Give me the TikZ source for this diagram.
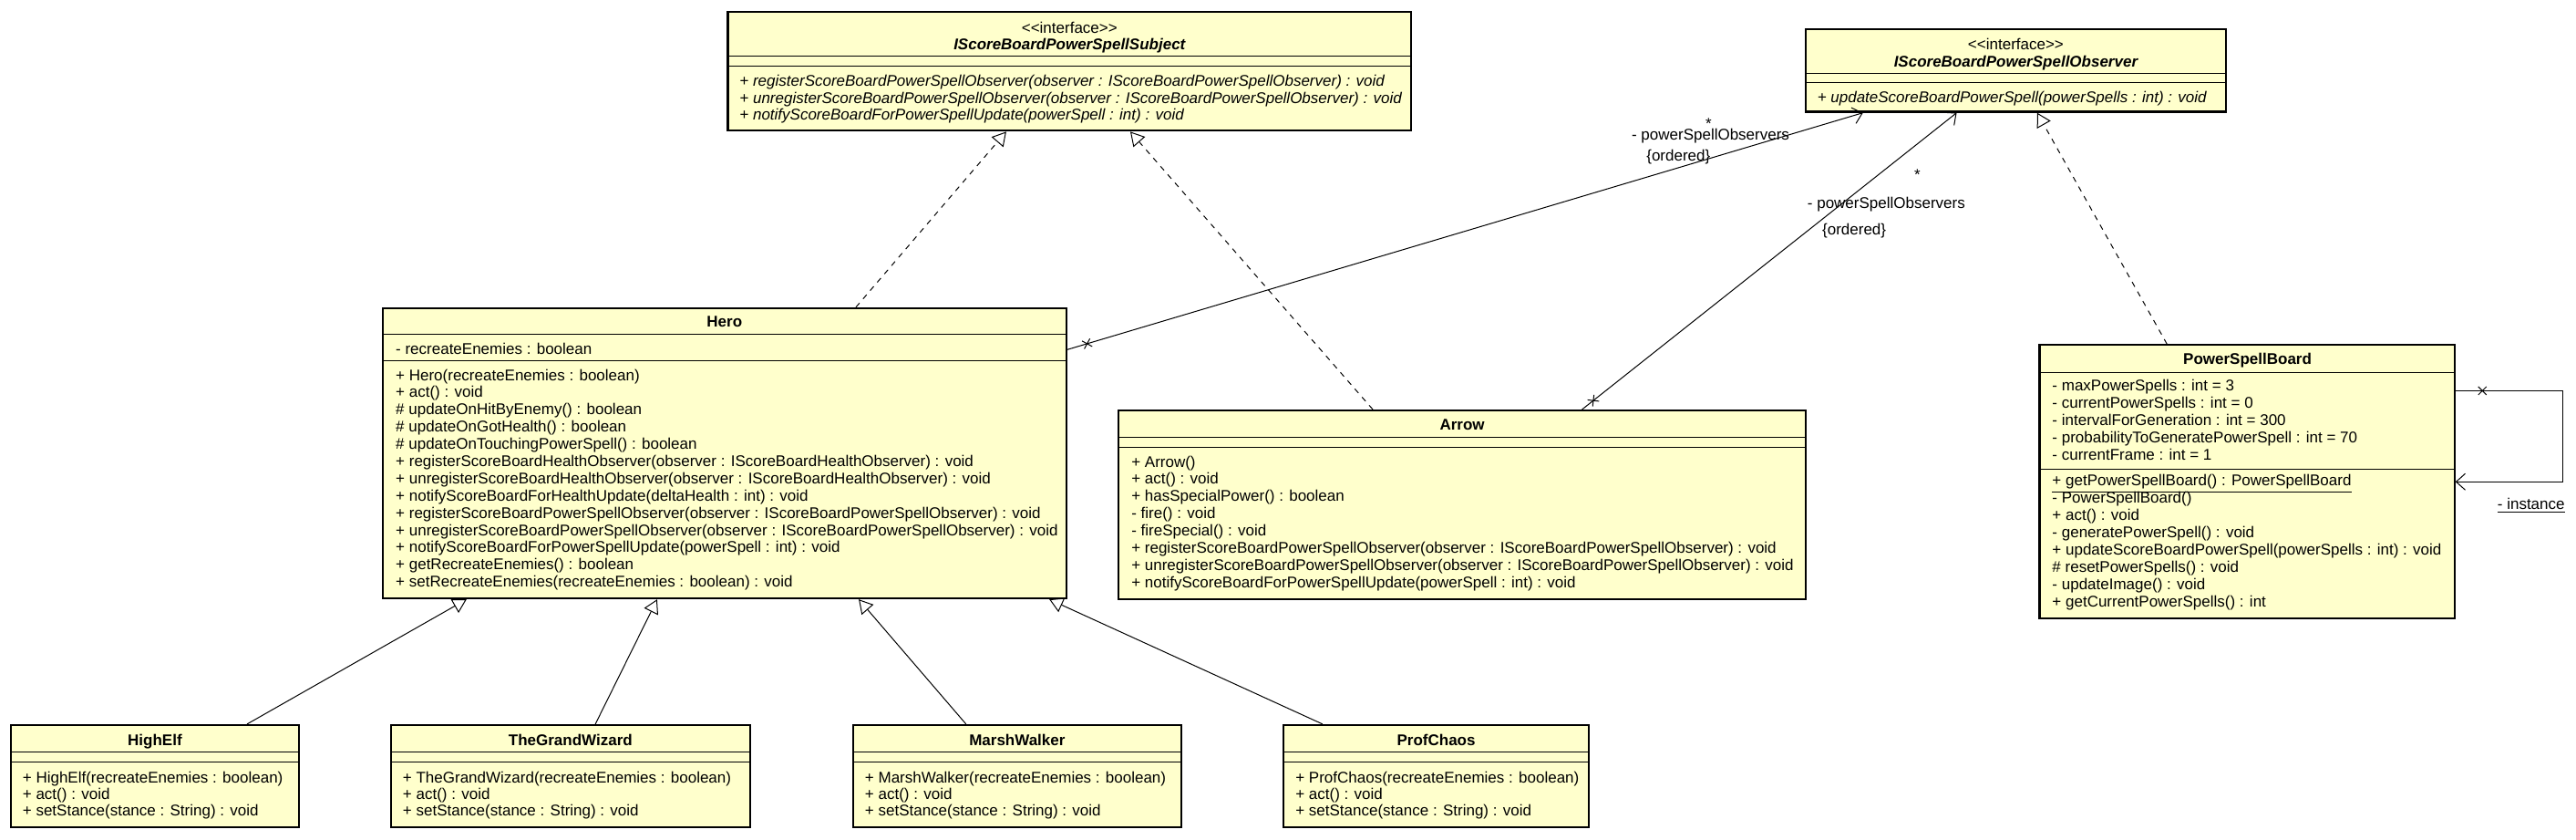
\documentclass[tikz,border=0pt]{standalone}
\usepackage{fontspec}
\setmainfont{Liberation Sans}
\usetikzlibrary{arrows.meta,fit,shapes.misc}
\definecolor{classfill}{RGB}{255,255,204}

\begin{document}
\begin{tikzpicture}[x=0.9012pt,y=-0.9012pt,
    classbox/.style={draw,line width=1.1pt,fill=classfill,inner sep=0pt},
    divider/.style={line width=0.5pt},
    member/.style={anchor=base west,inner sep=0pt,font=\fontsize{8.5}{10}\selectfont},
    absmember/.style={member,font=\fontsize{8.5}{10}\selectfont\itshape},
    stereo/.style={anchor=base,inner sep=0pt,font=\fontsize{8.5}{10}\selectfont},
    classname/.style={anchor=base,inner sep=0pt,font=\fontsize{8.5}{10}\selectfont\bfseries},
    ifacename/.style={classname,font=\fontsize{8.5}{10}\selectfont\bfseries\itshape},
    rolename/.style={anchor=base west,inner sep=0pt,font=\fontsize{8.5}{10}\selectfont},
    realizes/.style={line width=0.5pt,dash pattern=on 3pt off 3pt,-{Triangle[open,length=7.5pt,width=8.5pt]}},
    extends/.style={line width=0.5pt,-{Triangle[open,length=7.5pt,width=8.5pt]}},
    navigable/.style={line width=0.5pt,-{Straight Barb[length=5pt,width=9pt]}},
    noend/.style={cross out,draw,line width=0.5pt,minimum size=4pt,inner sep=0pt,sloped}]
  \useasboundingbox (0,0) rectangle (1568,511);

  % interfaces
  \node[classbox,fit={(443,7.4) (859,79.5)}] (isubject) {};
  \draw[divider] (443,34.2) -- (859,34.2);
  \draw[divider] (443,40.1) -- (859,40.1);
  \node[stereo] (isubject-st) at (651,20) {<\kern0pt<interface>\kern0pt>};
  \node[ifacename] (isubject-name) at (651,30.4) {IScoreBoardPowerSpellSubject};
  \foreach \t [count=\i] in {registerScoreBoardPowerSpellObserver(observer : IScoreBoardPowerSpellObserver) : void,
      unregisterScoreBoardPowerSpellObserver(observer : IScoreBoardPowerSpellObserver) : void,
      notifyScoreBoardForPowerSpellUpdate(powerSpell : int) : void}
    \node[absmember] (isubject-op-\i) at (450,{42.4+10.2*\i}) {+ \t};

  \node[classbox,fit={(1099,17.6) (1355,68)}] (iobserver) {};
  \draw[divider] (1099,44.4) -- (1355,44.4);
  \draw[divider] (1099,50.3) -- (1355,50.3);
  \node[stereo] (iobserver-st) at (1227,30.2) {<\kern0pt<interface>\kern0pt>};
  \node[ifacename] (iobserver-name) at (1227,40.6) {IScoreBoardPowerSpellObserver};
  \node[absmember] (iobserver-op-1) at (1106,62.5) {+ updateScoreBoardPowerSpell(powerSpells : int) : void};

  % Hero
  \node[classbox,fit={(233,187.5) (649,364)}] (hero) {};
  \draw[divider] (233,203.5) -- (649,203.5);
  \draw[divider] (233,219.7) -- (649,219.7);
  \node[classname] (hero-name) at (441,199) {Hero};
  \node[member] (hero-attr-1) at (240.7,215.3) {- recreateEnemies : boolean};
  \foreach \t [count=\i] in {+ Hero(recreateEnemies : boolean),
      + act() : void,
      \# updateOnHitByEnemy() : boolean,
      \# updateOnGotHealth() : boolean,
      \# updateOnTouchingPowerSpell() : boolean,
      + registerScoreBoardHealthObserver(observer : IScoreBoardHealthObserver) : void,
      + unregisterScoreBoardHealthObserver(observer : IScoreBoardHealthObserver) : void,
      + notifyScoreBoardForHealthUpdate(deltaHealth : int) : void,
      + registerScoreBoardPowerSpellObserver(observer : IScoreBoardPowerSpellObserver) : void,
      + unregisterScoreBoardPowerSpellObserver(observer : IScoreBoardPowerSpellObserver) : void,
      + notifyScoreBoardForPowerSpellUpdate(powerSpell : int) : void,
      + getRecreateEnemies() : boolean,
      + setRecreateEnemies(recreateEnemies : boolean) : void}
    \node[member] (hero-op-\i) at (240.7,{220.92+10.48*\i}) {\t};

  % Arrow
  \node[classbox,fit={(681,249.7) (1099,364.4)}] (arrow) {};
  \draw[divider] (681,266.3) -- (1099,266.3);
  \draw[divider] (681,271.9) -- (1099,271.9);
  \node[classname] (arrow-name) at (890,261.6) {Arrow};
  \foreach \t [count=\i] in {+ Arrow(),
      + act() : void,
      + hasSpecialPower() : boolean,
      - fire() : void,
      - fireSpecial() : void,
      + registerScoreBoardPowerSpellObserver(observer : IScoreBoardPowerSpellObserver) : void,
      + unregisterScoreBoardPowerSpellObserver(observer : IScoreBoardPowerSpellObserver) : void,
      + notifyScoreBoardForPowerSpellUpdate(powerSpell : int) : void}
    \node[member] (arrow-op-\i) at (688.5,{273.6+10.5*\i}) {\t};

  % PowerSpellBoard
  \node[classbox,fit={(1241.5,209.9) (1494,376.4)}] (psb) {};
  \draw[divider] (1241.5,226.6) -- (1494,226.6);
  \draw[divider] (1241.5,285.2) -- (1494,285.2);
  \node[classname] (psb-name) at (1368,221.6) {PowerSpellBoard};
  \foreach \t [count=\i] in {- maxPowerSpells : int = 3,
      - currentPowerSpells : int = 0,
      - intervalForGeneration : int = 300,
      - probabilityToGeneratePowerSpell : int = 70,
      - currentFrame : int = 1}
    \node[member] (psb-attr-\i) at (1249,{227.4+10.5*\i}) {\t};
  \foreach \t [count=\i] in {{\underline{+ getPowerSpellBoard() : PowerSpellBoard}},
      - PowerSpellBoard(),
      + act() : void,
      - generatePowerSpell() : void,
      + updateScoreBoardPowerSpell(powerSpells : int) : void,
      \# resetPowerSpells() : void,
      - updateImage() : void,
      + getCurrentPowerSpells() : int}
    \node[member] (psb-op-\i) at (1249,{285.1+10.5*\i}) {\t};

  % heroes
  \foreach \name/\id/\l/\r in {HighElf/highelf/6.6/182,
      TheGrandWizard/grandwizard/238/456.5,
      MarshWalker/marshwalker/519.3/719,
      ProfChaos/profchaos/781.4/967} {
    \node[classbox,fit={(\l,441.1) (\r,503.4)}] (\id) {};
    \draw[divider] (\l,457.7) -- (\r,457.7);
    \draw[divider] (\l,463.7) -- (\r,463.7);
    \node[classname] (\id-name) at ({(\l+\r)/2},453.7) {\name};
    \foreach \t [count=\i] in {+ \name(recreateEnemies : boolean),
        + act() : void,
        + setStance(stance : String) : void}
      \node[member] (\id-op-\i) at ({\l+7},{466.1+10*\i}) {\t};
  }

  % realizations
  \draw[realizes] (hero.north -| 521,0) -- (isubject.south -| 612.5,0);
  \draw[realizes] (arrow.north -| 835.6,0) -- (isubject.south -| 688,0);
  \draw[realizes] (psb.north -| 1319,0) -- (iobserver.south -| 1240,0);

  % generalizations
  \foreach \id/\a/\b in {highelf/150.4/284, grandwizard/362.4/400,
      marshwalker/588/522.7, profchaos/805/638.7}
    \draw[extends] (\id.north -| \a,0) -- (hero.south -| \b,0);

  % associations
  \draw[navigable] (hero.east |- 0,212.7) -- node[noend,pos=0.025] (hero-x) {} (iobserver.south -| 1134,0);
  \node[rolename,anchor=base] (hero-mult) at (1040,78.5) {*};
  \node[rolename] (hero-role) at (993,85) {- powerSpellObservers};
  \node[rolename] (hero-ord) at (1002,98) {\{ordered\}};

  \draw[navigable] (arrow.north -| 963,0) -- node[noend,pos=0.03] (arrow-x) {} (iobserver.south -| 1191,0);
  \node[rolename,anchor=base] (arrow-mult) at (1167,109.5) {*};
  \node[rolename] (arrow-role) at (1100,127) {- powerSpellObservers};
  \node[rolename] (arrow-ord) at (1109,143) {\{ordered\}};

  \draw[navigable] (psb.east |- 0,237.7) -- node[noend,pos=0.25] (psb-x) {} ++(65.6,0) |- (psb.east |- 0,293.1);
  \node[rolename] (psb-role) at (1520,310) {\underline{- instance}};
\end{tikzpicture}
\end{document}
